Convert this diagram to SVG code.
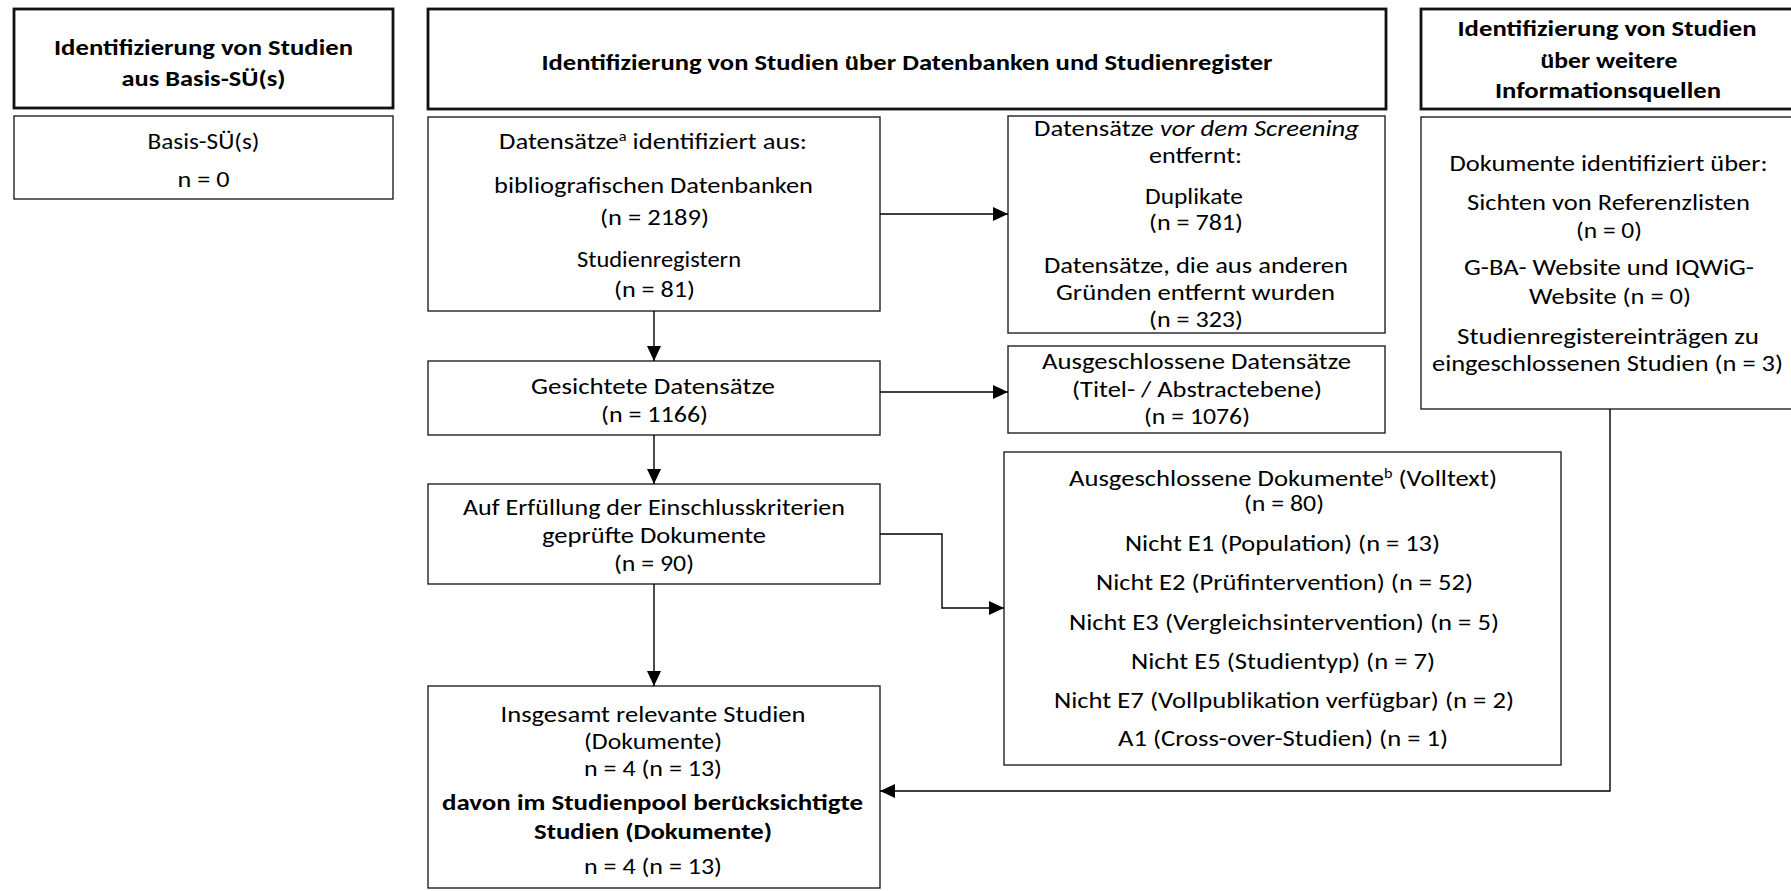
<svg xmlns="http://www.w3.org/2000/svg" width="1791" height="891" viewBox="0 0 1791 891">
<style>
.t{font-family:Carlito,Lato,"Open Sans","DejaVu Sans",sans-serif;font-size:23px;fill:#000;text-anchor:middle}
.b{font-weight:bold}
.hdr{fill:#fff;stroke:#111;stroke-width:2.8}
.box{fill:#fff;stroke:#222;stroke-width:1.4}
.ln{fill:none;stroke:#000;stroke-width:1.4}
.sup{font-size:14px}
.it{font-style:italic}
</style>
<defs>
<marker id="ah" markerUnits="userSpaceOnUse" markerWidth="16" markerHeight="14" refX="15" refY="7" orient="auto"><path d="M0,0L15,7L0,14z" fill="#000"/></marker>
</defs>
<rect width="1791" height="891" fill="#fff"/>

<g id="hdr-left">
<rect class="hdr" x="14" y="9" width="379" height="99"/>
<text class="t b" x="203.5" y="55" textLength="299" lengthAdjust="spacingAndGlyphs">Identifizierung von Studien</text>
<text class="t b" x="203.5" y="86" textLength="164" lengthAdjust="spacingAndGlyphs">aus Basis-SÜ(s)</text>
</g>
<g id="basis">
<rect class="box" x="14" y="116" width="379" height="83"/>
<text class="t" x="203.5" y="149" textLength="112" lengthAdjust="spacingAndGlyphs">Basis-SÜ(s)</text>
<text class="t" x="203.5" y="187" textLength="52" lengthAdjust="spacingAndGlyphs">n = 0</text>
</g>
<g id="hdr-mid">
<rect class="hdr" x="428" y="9" width="958" height="100"/>
<text class="t b" x="907" y="70" textLength="731" lengthAdjust="spacingAndGlyphs">Identifizierung von Studien über Datenbanken und Studienregister</text>
</g>
<g id="hdr-right">
<rect class="hdr" x="1421" y="9" width="380" height="100"/>
<text class="t b" x="1607" y="36" textLength="299" lengthAdjust="spacingAndGlyphs">Identifizierung von Studien</text>
<text class="t b" x="1609" y="68" textLength="137" lengthAdjust="spacingAndGlyphs">über weitere</text>
<text class="t b" x="1608" y="98" textLength="226" lengthAdjust="spacingAndGlyphs">Informationsquellen</text>
</g>

<g id="identified">
<rect class="box" x="428" y="117" width="452" height="194"/>
<text class="t" x="653" y="149" textLength="308" lengthAdjust="spacingAndGlyphs">Datensätze<tspan class="sup" dy="-8">a</tspan><tspan dy="8"> identifiziert aus:</tspan></text>
<text class="t" x="653.5" y="193" textLength="319" lengthAdjust="spacingAndGlyphs">bibliografischen  Datenbanken</text>
<text class="t" x="654.5" y="225" textLength="109" lengthAdjust="spacingAndGlyphs">(n = 2189)</text>
<text class="t" x="659" y="267" textLength="164" lengthAdjust="spacingAndGlyphs">Studienregistern</text>
<text class="t" x="654.5" y="297" textLength="81" lengthAdjust="spacingAndGlyphs">(n = 81)</text>
</g>
<g id="removed">
<rect class="box" x="1008" y="116" width="377" height="217"/>
<text class="t" x="1196.5" y="136" textLength="325" lengthAdjust="spacingAndGlyphs">Datensätze <tspan class="it">vor dem Screening</tspan></text>
<text class="t" x="1195.5" y="163" textLength="93" lengthAdjust="spacingAndGlyphs">entfernt:</text>
<text class="t" x="1194" y="204" textLength="98" lengthAdjust="spacingAndGlyphs">Duplikate</text>
<text class="t" x="1196" y="230" textLength="94" lengthAdjust="spacingAndGlyphs">(n = 781)</text>
<text class="t" x="1196" y="273" textLength="304" lengthAdjust="spacingAndGlyphs">Datensätze, die aus anderen</text>
<text class="t" x="1195.5" y="300" textLength="279" lengthAdjust="spacingAndGlyphs">Gründen entfernt wurden</text>
<text class="t" x="1196" y="327" textLength="94" lengthAdjust="spacingAndGlyphs">(n = 323)</text>
</g>
<g id="screened">
<rect class="box" x="428" y="361" width="452" height="74"/>
<text class="t" x="653" y="394" textLength="244" lengthAdjust="spacingAndGlyphs">Gesichtete Datensätze</text>
<text class="t" x="654.5" y="422" textLength="107" lengthAdjust="spacingAndGlyphs">(n = 1166)</text>
</g>
<g id="excluded-records">
<rect class="box" x="1008" y="346" width="377" height="87"/>
<text class="t" x="1196.5" y="369" textLength="309" lengthAdjust="spacingAndGlyphs">Ausgeschlossene  Datensätze</text>
<text class="t" x="1197" y="397" textLength="250" lengthAdjust="spacingAndGlyphs">(Titel- / Abstractebene)</text>
<text class="t" x="1197" y="424" textLength="106" lengthAdjust="spacingAndGlyphs">(n = 1076)</text>
</g>
<g id="assessed">
<rect class="box" x="428" y="484" width="452" height="100"/>
<text class="t" x="654" y="515" textLength="382" lengthAdjust="spacingAndGlyphs">Auf Erfüllung  der Einschlusskriterien</text>
<text class="t" x="654" y="543" textLength="224" lengthAdjust="spacingAndGlyphs">geprüfte Dokumente</text>
<text class="t" x="654" y="571" textLength="80" lengthAdjust="spacingAndGlyphs">(n = 90)</text>
</g>
<g id="excluded-docs">
<rect class="box" x="1004" y="452" width="557" height="313"/>
<text class="t" x="1283" y="486" textLength="428" lengthAdjust="spacingAndGlyphs">Ausgeschlossene  Dokumente<tspan class="sup" dy="-8">b</tspan><tspan dy="8"> (Volltext)</tspan></text>
<text class="t" x="1284" y="511" textLength="80" lengthAdjust="spacingAndGlyphs">(n = 80)</text>
<text class="t" x="1282.5" y="551" textLength="315" lengthAdjust="spacingAndGlyphs">Nicht E1 (Population)  (n = 13)</text>
<text class="t" x="1284.5" y="590" textLength="377" lengthAdjust="spacingAndGlyphs">Nicht E2 (Prüfintervention)  (n = 52)</text>
<text class="t" x="1284" y="630" textLength="430" lengthAdjust="spacingAndGlyphs">Nicht E3 (Vergleichsintervention)  (n = 5)</text>
<text class="t" x="1283" y="669" textLength="304" lengthAdjust="spacingAndGlyphs">Nicht E5 (Studientyp)  (n = 7)</text>
<text class="t" x="1284" y="708" textLength="460" lengthAdjust="spacingAndGlyphs">Nicht E7 (Vollpublikation  verfügbar) (n = 2)</text>
<text class="t" x="1283" y="746" textLength="330" lengthAdjust="spacingAndGlyphs">A1 (Cross-over-Studien)   (n = 1)</text>
</g>
<g id="included">
<rect class="box" x="428" y="686" width="452" height="202"/>
<text class="t" x="653" y="722" textLength="305" lengthAdjust="spacingAndGlyphs">Insgesamt  relevante Studien</text>
<text class="t" x="653" y="749" textLength="138" lengthAdjust="spacingAndGlyphs">(Dokumente)</text>
<text class="t" x="653" y="776" textLength="138" lengthAdjust="spacingAndGlyphs">n = 4 (n = 13)</text>
<text class="t b" x="652.5" y="810" textLength="421" lengthAdjust="spacingAndGlyphs">davon im Studienpool berücksichtigte</text>
<text class="t b" x="653" y="839" textLength="238" lengthAdjust="spacingAndGlyphs">Studien (Dokumente)</text>
<text class="t" x="653" y="874" textLength="138" lengthAdjust="spacingAndGlyphs">n = 4 (n = 13)</text>
</g>
<g id="other-sources">
<rect class="box" x="1421" y="117" width="380" height="292"/>
<text class="t" x="1608.5" y="171" textLength="318" lengthAdjust="spacingAndGlyphs">Dokumente  identifiziert über:</text>
<text class="t" x="1608.5" y="210" textLength="283" lengthAdjust="spacingAndGlyphs">Sichten von Referenzlisten</text>
<text class="t" x="1609" y="238" textLength="66" lengthAdjust="spacingAndGlyphs">(n = 0)</text>
<text class="t" x="1609" y="275" textLength="290" lengthAdjust="spacingAndGlyphs">G-BA- Website und IQWiG-</text>
<text class="t" x="1610" y="304" textLength="162" lengthAdjust="spacingAndGlyphs">Website (n = 0)</text>
<text class="t" x="1608" y="344" textLength="302" lengthAdjust="spacingAndGlyphs">Studienregistereinträgen zu</text>
<text class="t" x="1607.5" y="371" textLength="351" lengthAdjust="spacingAndGlyphs">eingeschlossenen  Studien (n = 3)</text>
</g>

<g id="connectors">
<path class="ln" d="M654,311V361" marker-end="url(#ah)"/>
<path class="ln" d="M654,435V484" marker-end="url(#ah)"/>
<path class="ln" d="M654,584V686" marker-end="url(#ah)"/>
<path class="ln" d="M880,214H1008" marker-end="url(#ah)"/>
<path class="ln" d="M880,392H1008" marker-end="url(#ah)"/>
<path class="ln" d="M880,534H942V608H1004" marker-end="url(#ah)"/>
<path class="ln" d="M1610,409V791H880" marker-end="url(#ah)"/>
</g>
</svg>
